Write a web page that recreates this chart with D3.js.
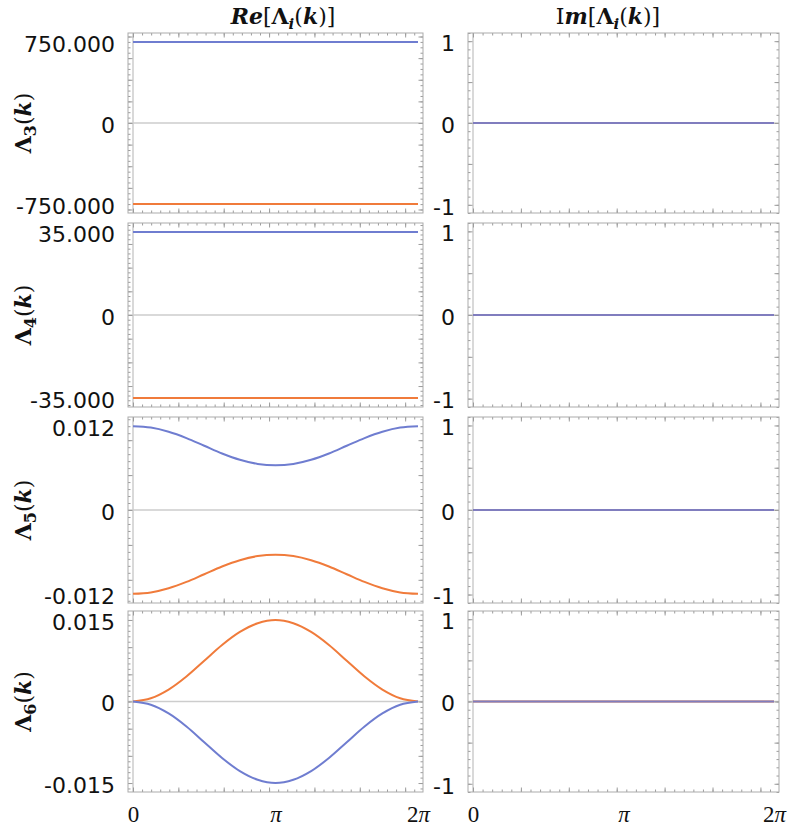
<!DOCTYPE html>
<html>
<head>
<meta charset="utf-8">
<script src="https://cdn.jsdelivr.net/npm/d3@7"></script>
<style>
  body { margin: 0; background: #fff; }
  svg { display: block; }
</style>
</head>
<body>
<svg id="chart" width="788" height="830"></svg>
<script>
// ---- data -------------------------------------------------------------
// sample points in k over one Brillouin period, 0 .. 2π in steps of π/8
const kValues = d3.range(17).map(j => j * Math.PI / 8);
const kTickValues = [0, Math.PI, 2 * Math.PI];
const kTickLabels = ["0", "π", "2π"];

// real parts, one pair of branches per Λ_i
const re3Blue   = [750, 750, 750, 750, 750, 750, 750, 750, 750, 750, 750, 750, 750, 750, 750, 750, 750];
const re3Orange = [-750, -750, -750, -750, -750, -750, -750, -750, -750, -750, -750, -750, -750, -750, -750, -750, -750];
const re4Blue   = [35, 35, 35, 35, 35, 35, 35, 35, 35, 35, 35, 35, 35, 35, 35, 35, 35];
const re4Orange = [-35, -35, -35, -35, -35, -35, -35, -35, -35, -35, -35, -35, -35, -35, -35, -35, -35];
const re5Blue   = [0.0120, 0.0118, 0.0112, 0.0103, 0.0092, 0.0081, 0.0072, 0.0066, 0.0064, 0.0066, 0.0072, 0.0081, 0.0092, 0.0103, 0.0112, 0.0118, 0.0120];
const re5Orange = [-0.0120, -0.0118, -0.0112, -0.0103, -0.0092, -0.0081, -0.0072, -0.0066, -0.0064, -0.0066, -0.0072, -0.0081, -0.0092, -0.0103, -0.0112, -0.0118, -0.0120];
const re6Blue   = [0, -0.0006, -0.0022, -0.0046, -0.0075, -0.0104, -0.0128, -0.0144, -0.0150, -0.0144, -0.0128, -0.0104, -0.0075, -0.0046, -0.0022, -0.0006, 0];
const re6Orange = [0, 0.0006, 0.0022, 0.0046, 0.0075, 0.0104, 0.0128, 0.0144, 0.0150, 0.0144, 0.0128, 0.0104, 0.0075, 0.0046, 0.0022, 0.0006, 0];

// imaginary parts (identical for every Λ_i)
const imBlue   = [0, 0, 0, 0, 0, 0, 0, 0, 0, 0, 0, 0, 0, 0, 0, 0, 0];
const imOrange = [0, 0, 0, 0, 0, 0, 0, 0, 0, 0, 0, 0, 0, 0, 0, 0, 0];

// tick values and labels of the left frame edges
const re3TickValues = [-750, 0, 750];
const re3TickLabels = ["-750.000", "0", "750.000"];
const re4TickValues = [-35, 0, 35];
const re4TickLabels = ["-35.000", "0", "35.000"];
const re5TickValues = [-0.012, 0, 0.012];
const re5TickLabels = ["-0.012", "0", "0.012"];
const re6TickValues = [-0.015, 0, 0.015];
const re6TickLabels = ["-0.015", "0", "0.015"];
const imTickValues = [-1, 0, 1];
const imTickLabels = ["-1", "0", "1"];

const rowIndices = ["3", "4", "5", "6"];

// ---- layout -----------------------------------------------------------
const rowTop    = [33, 223, 417, 611];
const rowBottom = [213, 407, 603, 792];
const colLeft   = [128, 468];
const colRight  = [423, 779];
const innerPad  = 5;
const valuePad  = 1.11;

const blue = "#6f7dd0";
const orange = "#f07b3b";
const frameColor = "#ababab";
const axisColor = "#cdcdcd";
const tickFont = "'DejaVu Sans', sans-serif";
const mathFont = "'DejaVu Serif', serif";

const svg = d3.select("#chart");

const rows = [
  { re: [re3Blue, re3Orange], tv: re3TickValues, tl: re3TickLabels },
  { re: [re4Blue, re4Orange], tv: re4TickValues, tl: re4TickLabels },
  { re: [re5Blue, re5Orange], tv: re5TickValues, tl: re5TickLabels },
  { re: [re6Blue, re6Orange], tv: re6TickValues, tl: re6TickLabels }
];

function drawPanel(col, row, series, yDomain, tickValues, tickLabels, isLast) {
  const x0 = colLeft[col], x1 = colRight[col];
  const y0 = rowTop[row], y1 = rowBottom[row];
  const g = svg.append("g");

  const x = d3.scaleLinear().domain([0, 2 * Math.PI]).range([x0 + innerPad, x1 - innerPad]);
  const y = d3.scaleLinear().domain(yDomain).range([y1, y0]);

  // axis lines through the origin
  g.append("line")
    .attr("x1", x0).attr("x2", x1)
    .attr("y1", y(0)).attr("y2", y(0))
    .attr("stroke", axisColor).attr("stroke-width", 1.5);
  g.append("line")
    .attr("x1", x(0)).attr("x2", x(0))
    .attr("y1", y0).attr("y2", y1)
    .attr("stroke", axisColor).attr("stroke-width", 1.5);

  // frame ticks (pointing inward) on all four sides
  const kMinor = d3.range(0, 6.3, 0.2);
  const kMajor = d3.range(0, 7, 1);
  const yMinor = y.ticks(30);
  const yMajor = y.ticks(6);
  const styleTicks = sel => {
    sel.select(".domain").remove();
    sel.selectAll(".tick line").attr("stroke", "#9c9c9c").attr("stroke-width", 1);
    sel.selectAll(".tick text").remove();
  };
  [[kMinor, 2.5], [kMajor, 4.5]].forEach(([vals, len]) => {
    g.append("g").attr("transform", `translate(0,${y1})`)
      .call(d3.axisBottom(x).tickValues(vals).tickSize(-len)).call(styleTicks);
    g.append("g").attr("transform", `translate(0,${y0})`)
      .call(d3.axisTop(x).tickValues(vals).tickSize(-len)).call(styleTicks);
  });
  [[yMinor, 2.5], [yMajor, 4.5]].forEach(([vals, len]) => {
    g.append("g").attr("transform", `translate(${x0},0)`)
      .call(d3.axisLeft(y).tickValues(vals).tickSize(-len)).call(styleTicks);
    g.append("g").attr("transform", `translate(${x1},0)`)
      .call(d3.axisRight(y).tickValues(vals).tickSize(-len)).call(styleTicks);
  });

  // labelled value ticks on the left edge
  const yAxis = g.append("g").attr("transform", `translate(${x0},0)`)
    .call(d3.axisLeft(y).tickValues(tickValues)
      .tickFormat((d, i) => tickLabels[i]).tickSize(0).tickPadding(13));
  yAxis.select(".domain").remove();
  yAxis.selectAll("text")
    .attr("font-family", tickFont).attr("font-size", 22)
    .attr("fill", "#111").attr("dy", "0.42em");

  // curves
  const line = d3.line()
    .x((d, i) => x(kValues[i]))
    .y(d => y(d))
    .curve(d3.curveCatmullRom.alpha(0.5));
  [[series[1], orange, 1], [series[0], blue, col === 1 ? 0.88 : 1]].forEach(([vals, color, op]) => {
    g.append("path")
      .datum(vals)
      .attr("d", line)
      .attr("fill", "none")
      .attr("stroke", color)
      .attr("stroke-opacity", op)
      .attr("stroke-width", 2);
  });

  // frame
  g.append("rect")
    .attr("x", x0).attr("y", y0)
    .attr("width", x1 - x0).attr("height", y1 - y0)
    .attr("fill", "none").attr("stroke", frameColor).attr("stroke-width", 1);

  // k axis labels under the last row
  if (isLast) {
    const xAxis = g.append("g").attr("transform", `translate(0,${y1})`)
      .call(d3.axisBottom(x).tickValues(kTickValues).tickFormat(() => "").tickSize(0).tickPadding(14));
    xAxis.select(".domain").remove();
    xAxis.selectAll("text").each(function (d, i) {
      const t = d3.select(this)
        .attr("font-family", "'Liberation Serif', serif")
        .attr("font-size", 23).attr("fill", "#111");
      const label = kTickLabels[i];
      for (const ch of label) {
        t.append("tspan").attr("font-style", ch === "π" ? "italic" : "normal").text(ch);
      }
    });
  }
}

rows.forEach((r, ri) => {
  const m = d3.max(r.tv.map(Math.abs)) * valuePad;
  const last = ri === rows.length - 1;
  drawPanel(0, ri, r.re, [-m, m], r.tv, r.tl, last);
  drawPanel(1, ri, [imBlue, imOrange], [-1.1, 1.1], imTickValues, imTickLabels, last);

  // row label Λ_i(k), rotated
  const cy = (rowTop[ri] + rowBottom[ri]) / 2;
  const lab = svg.append("text")
    .attr("transform", `translate(31,${cy}) rotate(-90)`)
    .attr("text-anchor", "middle")
    .attr("font-family", mathFont).attr("font-size", 22).attr("fill", "#111");
  lab.append("tspan").attr("font-weight", "bold").text("Λ");
  lab.append("tspan").attr("font-weight", "bold").attr("font-size", 16).attr("dy", 5).text(rowIndices[ri]);
  lab.append("tspan").attr("dy", -5).text("(");
  lab.append("tspan").attr("font-weight", "bold").attr("font-style", "italic").text("k");
  lab.append("tspan").text(")");
});

// column titles
function title(cx, prefix) {
  const t = svg.append("text")
    .attr("x", cx).attr("y", 24)
    .attr("text-anchor", "middle")
    .attr("font-family", mathFont).attr("font-size", 22).attr("fill", "#111");
  prefix(t);
  t.append("tspan").text("[");
  t.append("tspan").attr("font-weight", "bold").text("Λ");
  t.append("tspan").attr("font-weight", "bold").attr("font-style", "italic")
    .attr("font-size", 15).attr("dy", 5).text("i");
  t.append("tspan").attr("dy", -5).text("(");
  t.append("tspan").attr("font-weight", "bold").attr("font-style", "italic").text("k");
  t.append("tspan").text(")]");
}
title(283, t => t.append("tspan").attr("font-weight", "bold").attr("font-style", "italic").text("Re"));
title(608, t => {
  t.append("tspan").text("I");
  t.append("tspan").attr("font-weight", "bold").attr("font-style", "italic").text("m");
});
</script>
</body>
</html>
